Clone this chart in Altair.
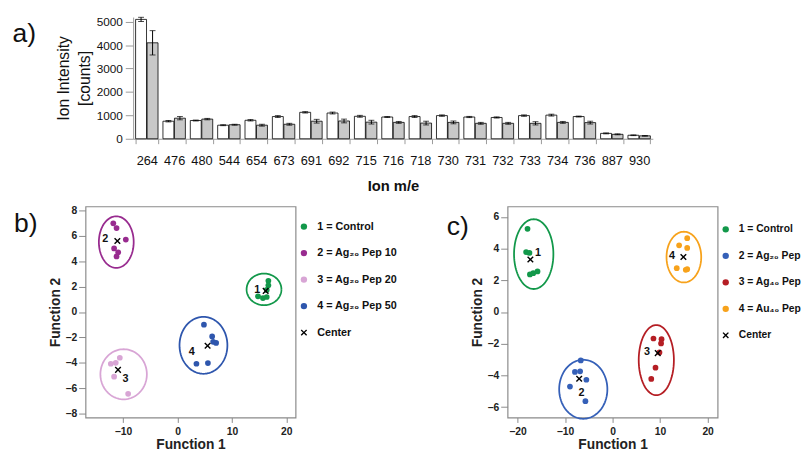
import altair as alt
import pandas as pd
import numpy as np

FONT = "Liberation Sans"

# ---------------- panel a data ----------------
ions = ["264", "476", "480", "544", "654", "673", "691", "692", "715", "716",
        "718", "730", "731", "732", "733", "734", "736", "887", "930"]
white = [5100, 750, 780, 580, 790, 950, 1130, 1100, 960, 930,
         950, 990, 930, 910, 990, 1010, 950, 230, 150]
white_err = [90, 30, 20, 20, 30, 40, 30, 40, 40, 20,
             40, 30, 25, 25, 30, 40, 20, 20, 15]
gray = [4100, 880, 840, 600, 580, 620, 750, 760, 710, 700,
        670, 700, 660, 660, 660, 700, 690, 190, 125]
gray_err = [520, 70, 30, 20, 40, 40, 80, 80, 80, 40,
            80, 60, 40, 40, 70, 40, 60, 20, 15]

# ---------------- panel b data ----------------
b_keys = ["1 = Control", "2 = Ag₂₀ Pep 10", "3 = Ag₂₀ Pep 20", "4 = Ag₂₀ Pep 50", "Center"]
b_colors = ["#12984a", "#982b8f", "#d8a5d5", "#2e56ad"]
b_pts_x = [[16.7, 16.7, 16.4, 14.8, 15.7, 16.4],
           [-11.8, -11.2, -9.5, -11.65, -10.9, -11.2],
           [-10.6, -11.35, -12.25, -11.65, -9.07],
           [4.86, 6.37, 6.55, 7.1, 3.48, 5.59]]
b_pts_y = [[2.45, 2.1, 1.74, 1.23, 1.1, 1.18],
           [6.98, 6.6, 5.7, 5.0, 4.7, 4.37],
           [-3.6, -4.0, -4.07, -5.09, -6.44],
           [-1.0, -1.92, -2.35, -2.43, -4.07, -4.02]]
b_ctr_x = [16.2, -11.05, -10.93, 5.53]
b_ctr_y = [1.66, 5.58, -4.55, -2.66]
b_lab_x = [14.65, -13.3, -9.55, 2.64]
b_lab_y = [1.74, 5.75, -5.24, -3.17]
b_ell_cx = [15.9, -11.25, -9.9, 4.77]
b_ell_cy = [1.78, 5.5, -4.9, -2.62]
b_ell_rx = [3.2, 3.2, 4.27, 4.4]
b_ell_ry = [1.24, 2.03, 1.97, 2.24]

# ---------------- panel c data ----------------
c_keys = ["1 = Control", "2 = Ag₂₀ Pep", "3 = Ag₄₀ Pep", "4 = Au₄₀ Pep", "Center"]
c_colors = ["#12984a", "#3560b8", "#b51e24", "#f7a21b"]
c_pts_x = [[-17.9, -18.2, -17.5, -17.4, -16.7, -15.8],
           [-6.7, -7.93, -6.83, -5.52, -8.97, -5.72],
           [8.6, 10.3, 10.2, 9.86, 9.03, 8.14],
           [15.7, 14.0, 15.7, 13.5, 15.4, 15.7]]
c_pts_y = [[5.24, 3.78, 3.72, 2.37, 2.45, 2.56],
           [-3.05, -3.78, -3.74, -4.27, -4.70, -5.62],
           [-1.67, -1.71, -1.98, -2.55, -3.51, -4.22],
           [4.65, 4.2, 4.04, 2.76, 2.66, 2.7]]
c_ctr_x = [-17.3, -7.03, 9.5, 14.9]
c_ctr_y = [3.31, -4.21, -2.59, 3.47]
c_lab_x = [-15.7, -6.55, 7.23, 12.5]
c_lab_y = [3.72, -5.11, -2.52, 3.53]
c_ell_cx = [-16.6, -6.17, 9.2, 15.0]
c_ell_cy = [3.65, -4.87, -3.03, 3.46]
c_ell_rx = [4.14, 5.07, 3.7, 3.65]
c_ell_ry = [2.2, 1.86, 2.21, 1.6]

XPATH = "M-1,-0.7L-0.7,-1L0,-0.3L0.7,-1L1,-0.7L0.3,0L1,0.7L0.7,1L0,0.3L-0.7,1L-1,0.7L-0.3,0Z"

# ================= panel a =================
SHIFT = 48.5          # plot area of panel a starts this far right of panel b's
A_W = 529.5
n = len(ions)
bar_df = pd.DataFrame({
    "ion": ions * 2,
    "series": ["A"] * n + ["B"] * n,
    "value": white + gray,
    "err": white_err + gray_err,
})
bar_df["lo"] = bar_df["value"] - bar_df["err"]
bar_df["hi"] = bar_df["value"] + bar_df["err"]

xa = alt.X("ion:N", sort=ions,
           scale=alt.Scale(paddingInner=0.18, paddingOuter=0.09, range=[SHIFT, SHIFT + A_W]),
           axis=alt.Axis(title="Ion m/e", labelAngle=0, tickBand="extent",
                         labelFont=FONT, labelFontSize=13, labelColor="#111",
                         labelPadding=11, titleFont=FONT, titleFontSize=15,
                         titleFontWeight="bold", titleColor="#111", titlePadding=12,
                         domainColor="#9a9a9a", tickColor="#9a9a9a", tickSize=5))
xoff = alt.XOffset("series:N", sort=["A", "B"], scale=alt.Scale(paddingInner=0.05))
ya_axis = alt.Axis(values=[0, 1000, 2000, 3000, 4000, 5000], format="d", grid=False,
                   offset=-SHIFT,
                   labelFont=FONT, labelFontSize=12, labelColor="#111", labelPadding=3,
                   tickSize=8, tickColor="#9a9a9a", domainColor="#9a9a9a",
                   titleFont=FONT, titleFontSize=16, titleFontWeight="normal",
                   titleColor="#111", titleLineHeight=21, titlePadding=4)
ya_scale = alt.Scale(domain=[0, 5200], nice=False)
ya_title = ["Ion Intensity", "[counts]"]

base_a = alt.Chart(bar_df)
bars = base_a.mark_bar(stroke="black", strokeWidth=0.8).encode(
    x=xa, xOffset=xoff,
    y=alt.Y("value:Q", scale=ya_scale, axis=ya_axis, title=ya_title),
    fill=alt.Fill("series:N", scale=alt.Scale(domain=["A", "B"], range=["white", "#c8c8c8"]),
                  legend=None))
rules = base_a.mark_rule(color="black", strokeWidth=1).encode(
    x=xa, xOffset=xoff,
    y=alt.Y("lo:Q", scale=ya_scale, axis=ya_axis, title=ya_title), y2="hi:Q")
cap_lo = base_a.mark_tick(color="black", thickness=1, size=6).encode(
    x=xa, xOffset=xoff, y=alt.Y("lo:Q", scale=ya_scale, axis=ya_axis, title=ya_title))
cap_hi = base_a.mark_tick(color="black", thickness=1, size=6).encode(
    x=xa, xOffset=xoff, y=alt.Y("hi:Q", scale=ya_scale, axis=ya_axis, title=ya_title))
lab_a = alt.Chart(pd.DataFrame({"t": ["a)"]})).mark_text(
    align="left", baseline="middle", font=FONT, fontSize=27, color="#111").encode(
    text="t:N", x=alt.value(-74.3), y=alt.value(17))

panel_a = alt.layer(bars, rules, cap_lo, cap_hi, lab_a).properties(
    width=SHIFT + A_W, height=124)


# ================= scatter panels =================
def scatter_panel(keys, colors, px, py, cx, cy, lx, ly, ecx, ecy, erx, ery,
                  xdom, ydom, xvals, yvals, legx, legy, legfs, legrp,
                  plabel, plx, ply):
    rows = []
    for g in range(4):
        for x, y in zip(px[g], py[g]):
            rows.append({"x": x, "y": y, "key": keys[g]})
    pts = pd.DataFrame(rows)
    ctr = pd.DataFrame({"x": cx, "y": cy, "key": ["Center"] * 4})
    lab = pd.DataFrame({"x": lx, "y": ly, "num": ["1", "2", "3", "4"]})
    erows = []
    t = np.linspace(0, 2 * np.pi, 97)
    for g in range(4):
        for i, tt in enumerate(t):
            erows.append({"x": ecx[g] + erx[g] * np.cos(tt),
                          "y": ecy[g] + ery[g] * np.sin(tt),
                          "grp": keys[g], "i": i})
    ell = pd.DataFrame(erows)

    xs = alt.Scale(domain=xdom, nice=False, zero=False)
    ys = alt.Scale(domain=ydom, nice=False, zero=False)
    xax = alt.Axis(values=xvals, grid=False, domain=False, tickColor="#8a8a8a", tickSize=5,
                   labelFont=FONT, labelFontSize=10.5, labelFontWeight="bold",
                   labelColor="#222", labelPadding=4, title="Function 1", titleFont=FONT,
                   titleFontSize=14, titleFontWeight="bold", titleColor="#222",
                   titlePadding=1.5)
    yax = alt.Axis(values=yvals, grid=False, domain=False, tickColor="#8a8a8a", tickSize=7,
                   labelFont=FONT, labelFontSize=10.5, labelFontWeight="bold",
                   labelColor="#222", labelPadding=2, title="Function 2", titleFont=FONT,
                   titleFontSize=14, titleFontWeight="bold", titleColor="#222",
                   titlePadding=3)
    X = alt.X("x:Q", scale=xs, axis=xax, title="Function 1")
    Y = alt.Y("y:Q", scale=ys, axis=yax, title="Function 2")

    leg = alt.Legend(title=None, orient="none", legendX=legx, legendY=legy,
                     labelFont=FONT, labelFontSize=legfs, labelFontWeight="bold",
                     labelColor="#111", symbolSize=42, rowPadding=legrp,
                     labelOffset=8, symbolStrokeWidth=0, labelLimit=400)
    col = alt.Color("key:N", scale=alt.Scale(domain=keys, range=colors + ["black"]),
                    legend=leg)
    shp = alt.Shape("key:N", scale=alt.Scale(domain=keys, range=["circle"] * 4 + [XPATH]),
                    legend=leg)

    ell_l = alt.Chart(ell).mark_line(strokeWidth=1.8).encode(
        x=X, y=Y, detail="grp:N", order="i:Q",
        stroke=alt.Stroke("grp:N", scale=alt.Scale(domain=keys[:4], range=colors),
                          legend=None))
    pts_l = alt.Chart(pts).mark_point(filled=True, opacity=1, size=34).encode(
        x=X, y=Y, color=col, shape=shp)
    ctr_l = alt.Chart(ctr).mark_point(filled=True, opacity=1, size=45).encode(
        x=X, y=Y, color=col, shape=shp)
    lab_l = alt.Chart(lab).mark_text(font=FONT, fontSize=11, fontWeight="bold",
                                     color="#111").encode(x=X, y=Y, text="num:N")
    plab = alt.Chart(pd.DataFrame({"t": [plabel]})).mark_text(
        align="left", baseline="middle", font=FONT, fontSize=27, color="#111").encode(
        text="t:N", x=alt.value(plx), y=alt.value(ply))
    return alt.layer(ell_l, pts_l, ctr_l, lab_l, plab).properties(
        width=214, height=215,
        view=alt.ViewBackground(stroke="#8a8a8a", strokeWidth=1.2))


panel_b = scatter_panel(b_keys, b_colors, b_pts_x, b_pts_y, b_ctr_x, b_ctr_y,
                        b_lab_x, b_lab_y, b_ell_cx, b_ell_cy, b_ell_rx, b_ell_ry,
                        [-16.9, 21.7], [-8.3, 8.3], [-10, 0, 10, 20],
                        [-8, -6, -4, -2, 0, 2, 4, 6, 8], 217, 15, 11, 15,
                        "b)", -73, 18)
panel_c = scatter_panel(c_keys, c_colors, c_pts_x, c_pts_y, c_ctr_x, c_ctr_y,
                        c_lab_x, c_lab_y, c_ell_cx, c_ell_cy, c_ell_rx, c_ell_ry,
                        [-22.1, 22.1], [-6.65, 6.65], [-20, -10, 0, 10, 20],
                        [-6, -4, -2, 0, 2, 4, 6], 217, 18, 10.5, 16,
                        "c)", -62, 21)

row_bc = alt.hconcat(panel_b, panel_c, spacing=48).resolve_scale(
    color="independent", shape="independent", stroke="independent")

chart = alt.vconcat(panel_a, row_bc, spacing=11).properties(
    padding={"left": 4, "top": 3, "right": 0, "bottom": 0}
).configure_view(stroke=None)

chart.save("out.html", embed_options={"renderer": "svg", "actions": False})
